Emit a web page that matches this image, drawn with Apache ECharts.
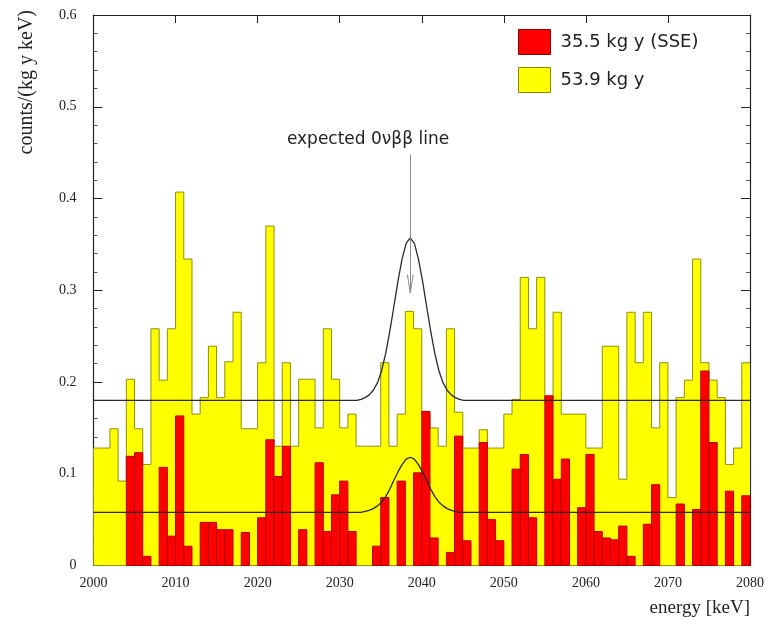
<!DOCTYPE html>
<html>
<head>
<meta charset="utf-8">
<script src="https://cdn.jsdelivr.net/npm/echarts@6/dist/echarts.min.js"></script>
<style>
  html, body { margin: 0; padding: 0; background: #ffffff; }
  #chart { width: 769px; height: 633px; }
</style>
</head>
<body>
<div id="chart"></div>
<script>
// Energy binning of both spectra: 1 keV bins starting at 2000 keV
const energyStart = 2000;
const binWidth = 1;

// counts/(kg y keV), full data set (53.9 kg y)
const ratesAll = [
  0.128, 0.128, 0.149, 0.092, 0.203, 0.149, 0.110, 0.258, 0.202, 0.258,
  0.407, 0.334, 0.165, 0.183, 0.239, 0.183, 0.222, 0.276, 0.149, 0.149,
  0.221, 0.370, 0.130, 0.221, 0.130, 0.203, 0.203, 0.150, 0.258, 0.203,
  0.150, 0.165, 0.130, 0.130, 0.130, 0.221, 0.130, 0.165, 0.277, 0.258,
  0.165, 0.150, 0.130, 0.258, 0.167, 0.128, 0.128, 0.148, 0.128, 0.128,
  0.165, 0.181, 0.314, 0.258, 0.314, 0.181, 0.276, 0.165, 0.165, 0.165,
  0.128, 0.128, 0.239, 0.239, 0.094, 0.276, 0.221, 0.276, 0.150, 0.221,
  0.074, 0.183, 0.202, 0.334, 0.221, 0.202, 0.183, 0.110, 0.128, 0.221
];

// counts/(kg y keV), single site events (35.5 kg y)
const ratesSSE = [
  0.000, 0.000, 0.000, 0.000, 0.119, 0.123, 0.010, 0.000, 0.107, 0.032,
  0.163, 0.021, 0.000, 0.047, 0.047, 0.039, 0.039, 0.000, 0.036, 0.000,
  0.052, 0.137, 0.097, 0.130, 0.000, 0.039, 0.000, 0.112, 0.037, 0.077,
  0.092, 0.037, 0.000, 0.000, 0.021, 0.074, 0.000, 0.092, 0.000, 0.101,
  0.168, 0.030, 0.000, 0.014, 0.141, 0.027, 0.000, 0.134, 0.050, 0.027,
  0.000, 0.105, 0.121, 0.052, 0.000, 0.185, 0.094, 0.116, 0.000, 0.063,
  0.121, 0.037, 0.030, 0.028, 0.043, 0.010, 0.000, 0.045, 0.088, 0.000,
  0.000, 0.067, 0.000, 0.061, 0.212, 0.134, 0.000, 0.081, 0.000, 0.076
];

// Expected line shape on top of the flat background (energy in keV)
const fitEnergy = [
  2000, 2032.1, 2032.6, 2033.1, 2033.6, 2034.1, 2034.6, 2035.1, 2035.6, 2036.1,
  2036.6, 2037.1, 2037.6, 2038.1, 2038.6, 2039.1, 2039.6, 2040.1, 2040.6, 2041.1,
  2041.6, 2042.1, 2042.6, 2043.1, 2043.6, 2044.1, 2044.6, 2045.1, 2080
];
const fitAll = [
  0.180, 0.180, 0.181, 0.183, 0.186, 0.191, 0.199, 0.212, 0.231, 0.255,
  0.282, 0.310, 0.334, 0.351, 0.357, 0.351, 0.334, 0.310, 0.282, 0.255,
  0.231, 0.212, 0.199, 0.191, 0.186, 0.183, 0.181, 0.180, 0.180
];
const fitSSE = [
  0.058, 0.058, 0.058, 0.059, 0.060, 0.062, 0.065, 0.069, 0.075, 0.083,
  0.093, 0.102, 0.110, 0.116, 0.118, 0.116, 0.110, 0.102, 0.093, 0.083,
  0.075, 0.069, 0.065, 0.062, 0.060, 0.059, 0.058, 0.058, 0.058
];

const seriesNames = ['35.5 kg y (SSE)', '53.9 kg y'];
const xTickStep = 10;
const yTickStep = 0.1;

// Marker arrow for the expected line position
const arrowEnergy = 2038.6;
const arrowFrom = 0.448;
const arrowTo = 0.297;

// Step outline of the full spectrum: one point per lower bin edge plus the last edge
const stepAll = ratesAll.map((v, i) => [energyStart + i * binWidth, v]);
stepAll.push([energyStart + ratesAll.length * binWidth, ratesAll[ratesAll.length - 1]]);

const barsSSE = ratesSSE.map((v, i) => [energyStart + i * binWidth, v]);
const curveAll = fitEnergy.map((e, i) => [e, fitAll[i]]);
const curveSSE = fitEnergy.map((e, i) => [e, fitSSE[i]]);

const axisColor = '#222';
const xMin = energyStart, xMax = energyStart + ratesAll.length * binWidth;

const chart = echarts.init(document.getElementById('chart'), null, { renderer: 'canvas' });

const tickStyle = { color: axisColor, width: 1 };

chart.setOption({
  animation: false,
  backgroundColor: '#ffffff',
  grid: { left: 93.5, right: 19, top: 15, bottom: 67.5, containLabel: false },
  legend: {
    orient: 'vertical',
    left: 518,
    top: 29,
    padding: 0,
    itemGap: 12,
    itemWidth: 32,
    itemHeight: 25,
    textStyle: { fontFamily: 'DejaVu Sans', fontSize: 18, color: '#222', padding: [0, 0, 0, 5] },
    data: [
      { name: seriesNames[0], icon: 'rect', itemStyle: { color: '#ff0000', borderColor: '#8a0000', borderWidth: 1 } },
      { name: seriesNames[1], icon: 'rect', itemStyle: { color: '#ffff00', borderColor: '#8a8a00', borderWidth: 1 } }
    ]
  },
  xAxis: [
    {
      type: 'value', min: xMin, max: xMax, interval: xTickStep, position: 'bottom',
      axisLine: { show: true, onZero: false, lineStyle: { color: axisColor, width: 1.2 } },
      axisTick: { show: true, inside: true, length: 8, lineStyle: tickStyle },
      axisLabel: {
        show: true, margin: 11, fontFamily: 'Liberation Serif', fontSize: 14, color: '#222',
        formatter: v => String(v)
      },
      splitLine: { show: false }
    },
    {
      type: 'value', min: xMin, max: xMax, interval: xTickStep, position: 'top',
      axisLine: { show: true, onZero: false, lineStyle: { color: axisColor, width: 1.2 } },
      axisTick: { show: true, inside: true, length: 8, lineStyle: tickStyle },
      axisLabel: { show: false },
      splitLine: { show: false }
    }
  ],
  yAxis: [
    {
      type: 'value', min: 0, max: 0.6, interval: yTickStep, position: 'left',
      axisLine: { show: true, onZero: false, lineStyle: { color: axisColor, width: 1.2 } },
      axisTick: { show: true, inside: true, length: 9, lineStyle: tickStyle },
      minorTick: { show: true, splitNumber: 5, length: 4, lineStyle: { color: '#555', width: 1 } },
      axisLabel: {
        show: true, margin: 17, fontFamily: 'Liberation Serif', fontSize: 14, color: '#222',
        formatter: v => (v === 0 ? '0' : v.toFixed(1))
      },
      splitLine: { show: false }
    },
    {
      type: 'value', min: 0, max: 0.6, interval: yTickStep, position: 'right',
      axisLine: { show: true, onZero: false, lineStyle: { color: axisColor, width: 1.2 } },
      axisTick: { show: true, inside: true, length: 9, lineStyle: tickStyle },
      minorTick: { show: true, splitNumber: 5, length: 4, lineStyle: { color: '#555', width: 1 } },
      axisLabel: { show: false },
      splitLine: { show: false }
    }
  ],
  graphic: [
    {
      type: 'text', x: 27, y: 10, rotation: Math.PI / 2,
      style: {
        text: 'counts/(kg y keV)', fontFamily: 'Liberation Serif', fontSize: 20,
        fill: '#222', align: 'right', verticalAlign: 'middle'
      }
    },
    {
      type: 'text', x: 750, y: 608,
      style: {
        text: 'energy [keV]', fontFamily: 'Liberation Serif', fontSize: 19,
        fill: '#222', align: 'right', verticalAlign: 'middle'
      }
    },
    {
      type: 'text', x: 368, y: 140, z: 10,
      style: {
        text: 'expected 0νββ line', fontFamily: 'DejaVu Sans', fontSize: 17,
        fill: '#222', align: 'center', verticalAlign: 'middle'
      }
    }
  ],
  series: [
    {
      name: seriesNames[1],
      type: 'line',
      step: 'end',
      data: stepAll,
      symbol: 'none',
      z: 1,
      itemStyle: { color: '#ffff00' },
      lineStyle: { color: '#8f8f10', width: 1 },
      areaStyle: { color: '#ffff00', opacity: 1, origin: 'start' }
    },
    {
      name: seriesNames[0],
      type: 'custom',
      z: 2,
      data: barsSSE,
      itemStyle: { color: '#ff0000' },
      encode: { x: 0, y: 1 },
      renderItem: function (params, api) {
        const e = api.value(0);
        const v = api.value(1);
        if (!v) return null;
        const topLeft = api.coord([e, v]);
        const bottomRight = api.coord([e + binWidth, 0]);
        return {
          type: 'rect',
          shape: {
            x: topLeft[0], y: topLeft[1],
            width: bottomRight[0] - topLeft[0], height: bottomRight[1] - topLeft[1]
          },
          style: { fill: '#ff0000', stroke: '#b40000', lineWidth: 1 }
        };
      }
    },
    {
      name: 'fit-all',
      type: 'line',
      data: curveAll,
      symbol: 'none',
      z: 3,
      lineStyle: { color: '#2a2a2a', width: 1.3 },
      markLine: {
        silent: true,
        symbol: ['none', 'none'],
        label: { show: false },
        lineStyle: { color: '#8a8a8a', width: 1, type: 'solid' },
        data: [
          [{ coord: [arrowEnergy, arrowFrom] }, { coord: [arrowEnergy, arrowTo] }],
          [{ coord: [arrowEnergy - 0.35, arrowTo + 0.02] }, { coord: [arrowEnergy, arrowTo] }],
          [{ coord: [arrowEnergy + 0.35, arrowTo + 0.02] }, { coord: [arrowEnergy, arrowTo] }]
        ]
      }
    },
    {
      name: 'fit-sse',
      type: 'line',
      data: curveSSE,
      symbol: 'none',
      z: 3,
      lineStyle: { color: '#2a2a2a', width: 1.3 }
    }
  ]
});
</script>
</body>
</html>
